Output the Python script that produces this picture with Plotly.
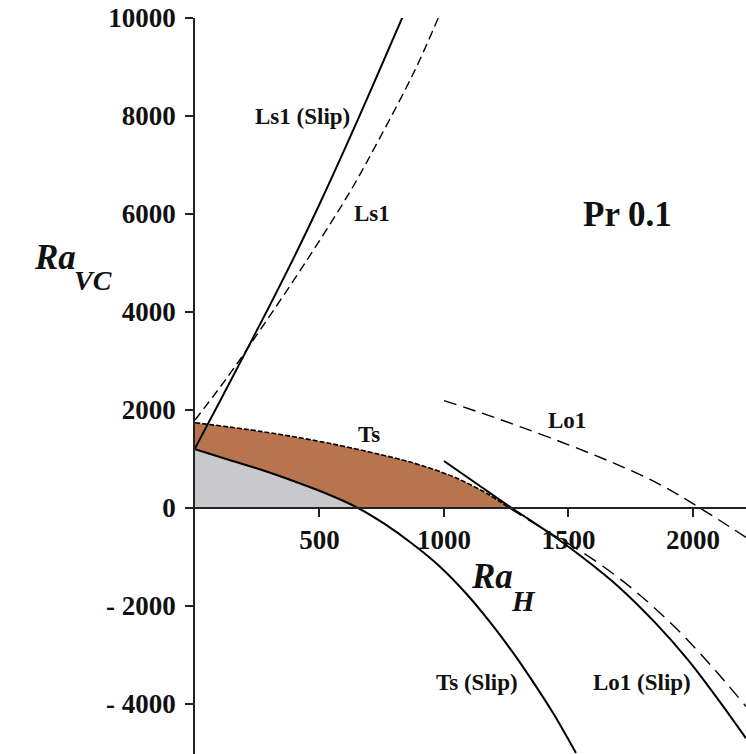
import plotly.graph_objects as go

# ---- data ----
ls1_slip_x = [0, 100, 200, 300, 400, 500, 650, 837]
ls1_slip_y = [1218, 2180, 3150, 4130, 5140, 6200, 7880, 10061]

ls1_x = [0, 94, 161, 268, 442, 622, 743, 880, 977]
ls1_y = [1796, 2420, 2890, 3680, 5000, 6450, 7560, 8900, 10000]

ts_x = [0, 272, 539, 807, 904, 1037, 1171, 1262]
ts_y = [1740, 1558, 1320, 1014, 878, 640, 300, 0]

ts_low_x = [1262, 1400, 1573, 1750, 1921, 2070, 2213]
ts_low_y = [0, -430, -960, -1620, -2400, -3200, -4050]

ts_slip_x = [0, 138, 272, 406, 539, 655, 760, 870, 984, 1090, 1185, 1270, 1345, 1440, 1530]
ts_slip_y = [1200, 980, 770, 530, 270, 0, -320, -720, -1197, -1750, -2330, -2900, -3450, -4200, -5000]

lo1_slip_x = [1000, 1130, 1272, 1420, 1560, 1700, 1850, 1980, 2100, 2213]
lo1_slip_y = [959, 500, 0, -500, -1020, -1600, -2350, -3100, -3900, -4700]

lo1_x = [1000, 1150, 1305, 1500, 1680, 1860, 2028, 2213]
lo1_y = [2190, 1940, 1660, 1290, 920, 500, 0, -600]

x_ticks = [500, 1000, 1500, 2000]
y_ticks = [10000, 8000, 6000, 4000, 2000, 0, -2000, -4000]
y_ticktext = ["10000", "8000", "6000", "4000", "2000", "0", "- 2000", "- 4000"]

BROWN = "#b8744f"
GREY = "#c9c9cc"
FONT = "Liberation Serif"

# ---- fills built from the curves (down to Ra_VC = 0) ----
slip_pos_x = [x for x, y in zip(ts_slip_x, ts_slip_y) if y >= 0]
slip_pos_y = [y for y in ts_slip_y if y >= 0]

fig = go.Figure()
fig.add_trace(go.Scatter(x=ts_x, y=ts_y, mode="lines", fill="tozeroy",
                         fillcolor=BROWN, line=dict(width=0, shape="spline", smoothing=1.0),
                         hoverinfo="skip"))
fig.add_trace(go.Scatter(x=slip_pos_x, y=slip_pos_y, mode="lines", fill="tozeroy",
                         fillcolor=GREY, line=dict(width=0, shape="spline", smoothing=1.0),
                         hoverinfo="skip"))

def line(x, y, dash="solid", width=2):
    fig.add_trace(go.Scatter(x=x, y=y, mode="lines",
                             line=dict(color="black", width=width, dash=dash,
                                       shape="spline", smoothing=1.0)))

line(ls1_slip_x, ls1_slip_y, "solid", 2)
line(ls1_x, ls1_y, "9px,5px", 1.4)
line(ts_x, ts_y, "5px,2px", 1.6)
line(ts_low_x, ts_low_y, "14px,8px", 1.4)
line(ts_slip_x, ts_slip_y, "solid", 2)
line(lo1_slip_x, lo1_slip_y, "solid", 2)
line(lo1_x, lo1_y, "13px,7px", 1.4)

tickfont = dict(family=FONT, size=27, color="#111", weight="bold")

fig.update_layout(
    width=746, height=754,
    margin=dict(l=195, r=0, t=18, b=0),
    paper_bgcolor="white", plot_bgcolor="white",
    showlegend=False,
    xaxis=dict(range=[0, 2213], anchor="free", position=5020 / 15020,
               showline=True, linecolor="#222", linewidth=1.5,
               ticks="outside", ticklen=8, tickwidth=1.5, tickcolor="#222",
               tickvals=x_ticks, ticktext=[str(v) for v in x_ticks],
               tickfont=tickfont, showgrid=False, zeroline=False,
               automargin=False, layer="above traces"),
    yaxis=dict(range=[-5020, 10000],
               showline=True, linecolor="#222", linewidth=1.5,
               ticks="outside", ticklen=8, tickwidth=1.5, tickcolor="#222",
               tickvals=y_ticks, ticktext=y_ticktext, ticklabelstandoff=4,
               tickfont=tickfont, showgrid=False, zeroline=False,
               automargin=False),
)

lab = dict(family=FONT, size=23, color="#111", weight="bold")
ann = [
    dict(text="Ls1 (Slip)", x=631, y=7980, xanchor="right", font=lab),
    dict(text="Ls1", x=629, y=6020, xanchor="left", font=lab),
    dict(text="Pr 0.1", x=1739, y=5980, font=dict(family=FONT, size=35, color="#111", weight="bold")),
    dict(text="Ts", x=699, y=1510, font=lab),
    dict(text="Lo1", x=1494, y=1796, font=lab),
    dict(text="Ts (Slip)", x=1305, y=-3551, xanchor="right", font=lab),
    dict(text="Lo1 (Slip)", x=1795, y=-3551, font=lab),
    dict(text="<b><i>Ra</i></b>", x=1193, y=-1388, font=dict(family=FONT, size=35, color="#111")),
    dict(text="<b><i>H</i></b>", x=1321, y=-1898, font=dict(family=FONT, size=29, color="#111")),
    dict(text="<b><i>Ra</i></b>", x=-0.296, xref="paper", y=5122,
         font=dict(family=FONT, size=35, color="#111")),
    dict(text="<b><i>VC</i></b>", x=-0.224, xref="paper", y=4633,
         font=dict(family=FONT, size=28, color="#111")),
]
for a in ann:
    a.setdefault("xref", "x")
    a.setdefault("yref", "y")
    a["showarrow"] = False
    fig.add_annotation(**a)

fig.write_html("out.html")
